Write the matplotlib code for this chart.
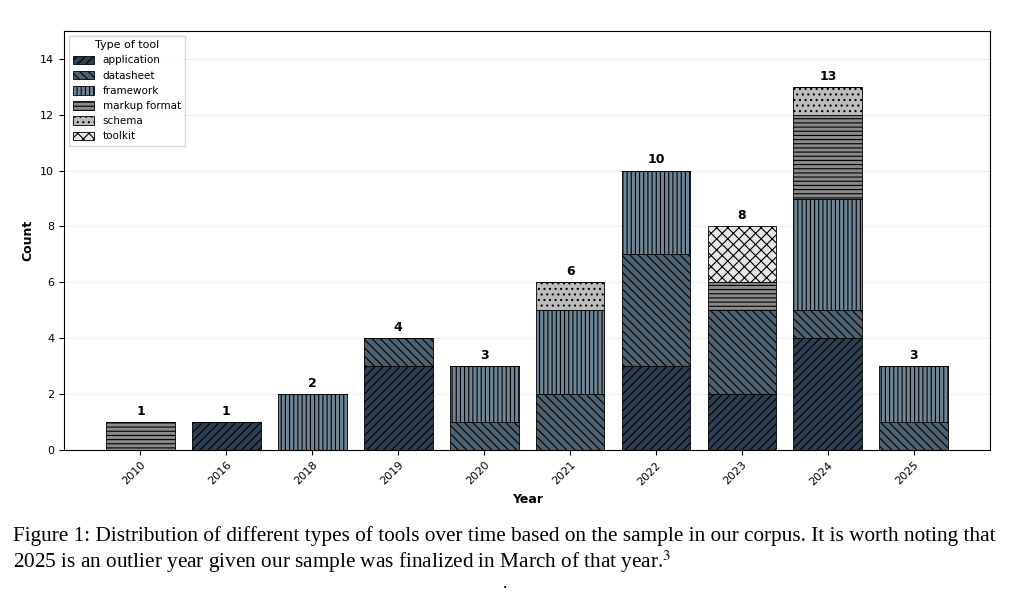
import numpy as np
import matplotlib
matplotlib.use("Agg")
import matplotlib.pyplot as plt

years = ["2010", "2016", "2018", "2019", "2020", "2021", "2022", "2023", "2024", "2025"]
tool_types = ["application", "datasheet", "framework", "markup format", "schema", "toolkit"]
application = [0, 1, 0, 3, 0, 0, 3, 2, 4, 0]
datasheet = [0, 0, 0, 1, 1, 2, 4, 3, 1, 1]
framework = [0, 0, 2, 0, 2, 3, 3, 0, 4, 2]
markup_format = [1, 0, 0, 0, 0, 0, 0, 1, 3, 0]
schema = [0, 0, 0, 0, 0, 1, 0, 0, 1, 0]
toolkit = [0, 0, 0, 0, 0, 0, 0, 2, 0, 0]

series = [application, datasheet, framework, markup_format, schema, toolkit]
colors = ["#2c3e50", "#4d6170", "#6e8595", "#8a8a8a", "#bcbcbc", "#e6e6e6"]
hatches = ["////", "\\\\\\\\", "||||", "----", "...", "xxx"]

plt.rcParams["hatch.linewidth"] = 0.8
plt.rcParams["mathtext.fontset"] = "stix"
fig = plt.figure(figsize=(10.24, 5.93), dpi=100)
ax = fig.add_axes([0.0625, 0.241, 0.9045, 0.707])

x = np.arange(len(years))
bottom = np.zeros(len(years))
for vals, name, c, h in zip(series, tool_types, colors, hatches):
    vals = np.array(vals)
    ax.bar(x, vals, 0.8, bottom=bottom, color=c, hatch=h, edgecolor="black",
           linewidth=0.6, label=name)
    bottom += vals

totals = bottom
for xi, t in zip(x, totals):
    ax.text(xi, t + 0.15, str(int(t)), ha="center", va="bottom", fontsize=9, fontweight="bold")

ax.set_ylim(0, 15)
ax.set_xticks(x)
ax.set_xticklabels(years, rotation=45, ha="right", rotation_mode="anchor", fontsize=8)
ax.tick_params(axis="y", labelsize=8)
ax.set_xlabel("Year", fontsize=9, fontweight="bold")
ax.set_ylabel("Count", fontsize=9, fontweight="bold")
ax.yaxis.grid(True, color="#eeeeee", linewidth=0.8)
ax.set_axisbelow(True)
leg = ax.legend(title="Type of tool", loc="upper left", fontsize=7.5, title_fontsize=8,
                frameon=True, fancybox=False, borderaxespad=0.5, handleheight=0.9)
leg.get_frame().set_edgecolor("#cccccc")

cap = ("Figure 1: Distribution of different types of tools over time based on the sample in our corpus. It is worth noting that\n"
       "2025 is an outlier year given our sample was finalized in March of that year.$^3$")
fig.text(0.013, 0.112, cap, ha="left", va="top", fontsize=15.35, family="Liberation Serif",
         linespacing=1.1)
fig.text(0.493, 0.009, ".", ha="center", va="baseline", fontsize=13, family="Liberation Serif")

fig.savefig("out.png", dpi=100)
